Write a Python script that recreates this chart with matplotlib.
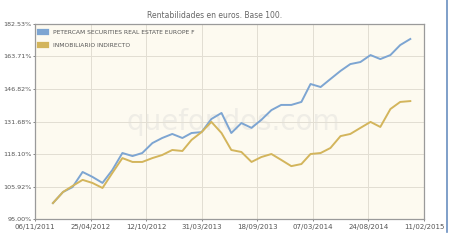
import matplotlib.pyplot as plt
import matplotlib.dates as mdates
import pandas as pd

# monthly closes, Dec 2011 - Dec 2014
dates = pd.date_range("2011-12-31", periods=37, freq="ME")

petercam = [100.2, 104.0, 105.7, 111.2, 109.4, 107.2, 111.9, 118.5, 117.3, 118.5,
            122.5, 124.6, 126.3, 124.6, 126.7, 127.1, 132.8, 135.5, 126.7, 131.0,
            128.9, 132.4, 136.8, 139.2, 139.2, 140.6, 149.3, 147.8, 151.8, 156.0,
            159.6, 160.7, 164.5, 162.3, 164.5, 170.1, 173.6]
inmobiliario = [100.2, 104.0, 106.1, 108.3, 107.2, 105.4, 110.8, 116.5, 115.0, 115.0,
                116.5, 117.7, 119.7, 119.3, 123.8, 127.1, 131.5, 126.7, 119.7, 118.9,
                115.0, 116.9, 118.1, 115.8, 113.4, 114.2, 118.1, 118.5, 120.5, 125.4,
                126.3, 128.9, 131.5, 129.3, 137.3, 140.6, 141.0]

names = ["PETERCAM SECURITIES REAL ESTATE EUROPE F", "INMOBILIARIO INDIRECTO"]
ytick_vals = [95.00, 105.92, 118.10, 131.68, 146.82, 163.71, 182.53]
xtick_dates = ["2011-11-06", "2012-04-25", "2012-10-12", "2013-03-31",
               "2013-09-18", "2014-03-07", "2014-08-24", "2015-02-11"]

fig = plt.figure(figsize=(4.5, 2.41), dpi=100)
ax = fig.add_axes([35 / 450, 1 - 219 / 241, 389 / 450, 195 / 241])
ax.set_facecolor("#fdfaf0")

ax.text(0.51, 0.50, "quefondos.com", transform=ax.transAxes, ha="center", va="center",
        fontsize=20, color="#efede6", zorder=1)

ax.plot(dates, petercam, color="#7da5d2", lw=1.4, zorder=3, label=names[0])
ax.plot(dates, inmobiliario, color="#d3b55c", lw=1.4, zorder=3, label=names[1])

ax.set_yscale("log")
ax.set_ylim(95.0, 182.53)
ax.set_yticks(ytick_vals)
ax.set_yticklabels(["%.2f%%" % v for v in ytick_vals])
ax.yaxis.set_minor_locator(plt.NullLocator())

xt = pd.to_datetime(xtick_dates)
ax.set_xlim(xt[0], xt[-1])
ax.set_xticks(xt)
ax.xaxis.set_major_formatter(mdates.DateFormatter("%d/%m/%Y"))

ax.grid(True, color="#e2ded3", lw=0.7, zorder=0)
ax.tick_params(labelsize=4.6, colors="#555555", length=1.5, width=0.5, pad=1)
ax.tick_params(axis="x", labelsize=5, pad=2)
for s in ax.spines.values():
    s.set_color("#9a9a9a")
    s.set_linewidth(0.9)

leg = ax.legend(loc="upper left", fontsize=4.3, frameon=False, handlelength=0.9,
                handleheight=0.9, borderaxespad=0.5, labelspacing=1.3, handletextpad=1.2)
for h in leg.legend_handles:
    h.set_linewidth(4.5)
for t in leg.get_texts():
    t.set_color("#555555")

fig.text(215 / 450, 1 - 16 / 241, "Rentabilidades en euros. Base 100.", ha="center",
         va="center", fontsize=5.5, color="#666666")

# blue frame edge on the right
fig.add_artist(plt.Line2D([447 / 450, 447 / 450], [1 - 232 / 241, 1.0], color="#6a8fc0",
                          lw=1.2, transform=fig.transFigure))

fig.savefig("out.png", dpi=100)
